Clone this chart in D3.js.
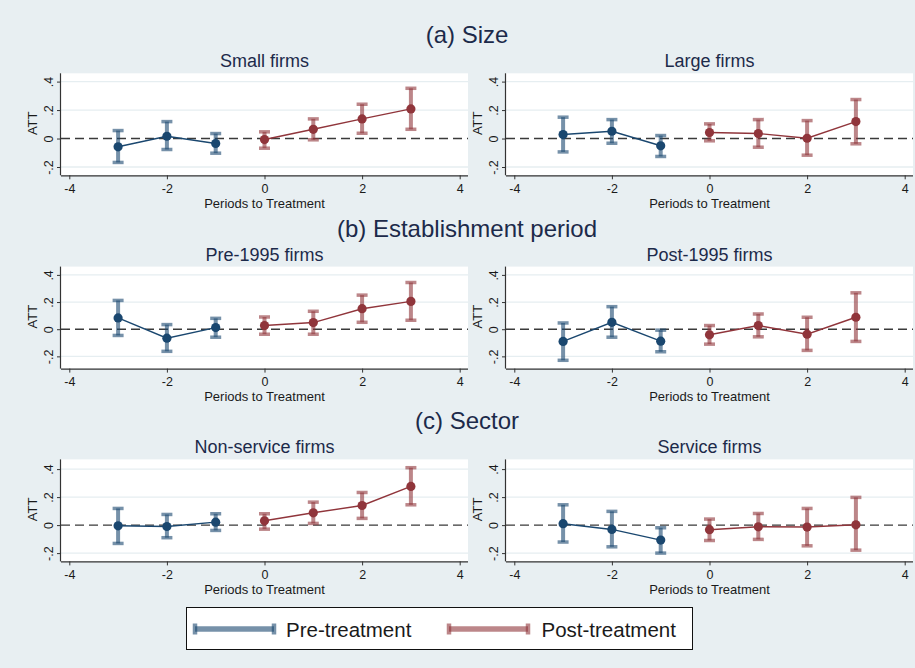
<!DOCTYPE html>
<html>
<head>
<meta charset="utf-8">
<script src="https://cdn.jsdelivr.net/npm/d3@7/dist/d3.min.js"></script>
<style>
  html, body { margin: 0; padding: 0; background: #e8eff2; }
  svg { display: block; font-family: "Liberation Sans", Arial, sans-serif; }
</style>
</head>
<body>
<svg id="chart" width="915" height="668"></svg>
<script>
// ---------------- DATA ----------------
const periods = [-3, -2, -1, 0, 1, 2, 3];
const rowTitles = ["(a) Size", "(b) Establishment period", "(c) Sector"];
const panelTitles = [
  ["Small firms", "Large firms"],
  ["Pre-1995 firms", "Post-1995 firms"],
  ["Non-service firms", "Service firms"]
];
const xTicks = [-4, -2, 0, 2, 4];
const yTicks = [-0.2, 0, 0.2, 0.4];
const yTickLabels = ["-.2", "0", ".2", ".4"];
const xAxisTitle = "Periods to Treatment";
const yAxisTitle = "ATT";
const legendLabels = ["Pre-treatment", "Post-treatment"];

// Small firms
const smallATT = [-0.058, 0.016, -0.035, -0.007, 0.065, 0.138, 0.208];
const smallLo  = [-0.168, -0.077, -0.103, -0.068, -0.009, 0.037, 0.065];
const smallHi  = [0.056, 0.119, 0.035, 0.047, 0.138, 0.241, 0.353];
// Large firms
const largeATT = [0.028, 0.051, -0.051, 0.042, 0.035, 0.002, 0.119];
const largeLo  = [-0.094, -0.033, -0.126, -0.016, -0.061, -0.117, -0.037];
const largeHi  = [0.150, 0.133, 0.021, 0.103, 0.133, 0.126, 0.274];
// Pre-1995 firms
const pre95ATT = [0.083, -0.066, 0.012, 0.027, 0.049, 0.151, 0.205];
const pre95Lo  = [-0.046, -0.163, -0.059, -0.037, -0.037, 0.051, 0.066];
const pre95Hi  = [0.212, 0.034, 0.080, 0.090, 0.132, 0.251, 0.344];
// Post-1995 firms
const post95ATT = [-0.090, 0.051, -0.088, -0.041, 0.027, -0.037, 0.088];
const post95Lo  = [-0.229, -0.059, -0.166, -0.110, -0.056, -0.156, -0.090];
const post95Hi  = [0.046, 0.166, -0.007, 0.027, 0.112, 0.088, 0.268];
// Non-service firms
const nonservATT = [-0.005, -0.010, 0.021, 0.031, 0.088, 0.140, 0.276];
const nonservLo  = [-0.131, -0.090, -0.038, -0.029, 0.012, 0.048, 0.145];
const nonservHi  = [0.119, 0.076, 0.081, 0.081, 0.164, 0.233, 0.410];
// Service firms
const servATT = [0.010, -0.031, -0.107, -0.033, -0.012, -0.014, 0.002];
const servLo  = [-0.121, -0.155, -0.200, -0.110, -0.102, -0.148, -0.179];
const servHi  = [0.145, 0.098, -0.019, 0.043, 0.083, 0.119, 0.198];

const panelData = [
  [[smallATT, smallLo, smallHi], [largeATT, largeLo, largeHi]],
  [[pre95ATT, pre95Lo, pre95Hi], [post95ATT, post95Lo, post95Hi]],
  [[nonservATT, nonservLo, nonservHi], [servATT, servLo, servHi]]
];

// ---------------- STYLE / LAYOUT ----------------
const preColor = "#1a476f";
const postColor = "#90353b";
const titleColor = "#1c2a4a";
const textColor = "#1a1a1a";
const rowTops = [73.3, 266.6, 459.4];
const rowTitleY = [42.5, 236.5, 429];
const colLefts = [61, 506];
const plotW = 407;
const plotH = 102;
const pad = 8.3;

const svg = d3.select("#chart");
svg.append("rect").attr("width", 915).attr("height", 668).attr("fill", "#e8eff2");

rowTitles.forEach((t, r) => {
  svg.append("text")
    .attr("x", 467).attr("y", rowTitleY[r])
    .attr("text-anchor", "middle")
    .attr("font-size", 24).attr("fill", titleColor)
    .text(t);
});

panelData.forEach((rowPanels, r) => {
  const top = rowTops[r];
  const bottom = top + plotH;
  const allLo = rowPanels.flatMap(p => p[1]);
  const allHi = rowPanels.flatMap(p => p[2]);
  const yMin = Math.min(d3.min(yTicks), d3.min(allLo));
  const yMax = Math.max(d3.max(yTicks), d3.max(allHi));
  const y = d3.scaleLinear().domain([yMin, yMax]).range([bottom - pad, top + pad]);

  rowPanels.forEach((pd, c) => {
    const left = colLefts[c];
    const right = left + plotW;
    const x = d3.scaleLinear().domain([-4, 4]).range([left + pad, right - pad]);
    const g = svg.append("g");

    // plot region
    g.append("rect").attr("x", left).attr("y", top)
      .attr("width", plotW).attr("height", plotH).attr("fill", "#ffffff");

    // gridlines
    g.selectAll(".grid").data(yTicks.filter(v => v !== 0)).enter()
      .append("line")
      .attr("x1", left).attr("x2", right)
      .attr("y1", d => y(d)).attr("y2", d => y(d))
      .attr("stroke", "#e6eef1").attr("stroke-width", 1.3);

    // zero reference line
    g.append("line")
      .attr("x1", left).attr("x2", right)
      .attr("y1", y(0)).attr("y2", y(0))
      .attr("stroke", "#3a3a3a").attr("stroke-width", 1.4)
      .attr("stroke-dasharray", "9,5");

    // axes
    const xAxis = d3.axisBottom(x).tickValues(xTicks).tickSize(4).tickPadding(5)
      .tickFormat(d3.format("d"));
    const gx = g.append("g").attr("transform", `translate(0,${bottom})`).call(xAxis);
    gx.select(".domain").attr("d", `M${left},0.5H${right}`).attr("stroke", "#333").attr("stroke-width", 1.2);
    gx.selectAll(".tick line").attr("stroke", "#333");
    gx.selectAll(".tick text").attr("font-size", 12.5).attr("fill", textColor)
      .attr("font-family", "Liberation Sans, Arial, sans-serif")
      .text(d => d < 0 ? "-" + Math.abs(d) : String(d));

    const yAxis = d3.axisLeft(y).tickValues(yTicks).tickSize(4)
      .tickFormat((d, i) => yTickLabels[i]);
    const gy = g.append("g").attr("transform", `translate(${left},0)`).call(yAxis);
    gy.select(".domain").attr("d", `M-0.5,${top}V${bottom}`).attr("stroke", "#333").attr("stroke-width", 1.2);
    gy.selectAll(".tick line").attr("stroke", "#333");
    gy.selectAll(".tick text")
      .attr("font-size", 12.5).attr("fill", textColor)
      .attr("font-family", "Liberation Sans, Arial, sans-serif")
      .attr("x", null).attr("dy", null)
      .attr("text-anchor", "middle")
      .attr("transform", "translate(-8.5,0) rotate(-90)");

    // axis titles
    g.append("text").attr("x", (left + right) / 2).attr("y", bottom + 32.5)
      .attr("text-anchor", "middle").attr("font-size", 13).attr("fill", textColor)
      .text(xAxisTitle);
    g.append("text")
      .attr("transform", `translate(${left - 24},${(top + bottom) / 2 - 1}) rotate(-90)`)
      .attr("text-anchor", "middle").attr("font-size", 13).attr("fill", textColor)
      .text(yAxisTitle);

    // panel subtitle
    g.append("text").attr("x", (left + right) / 2).attr("y", top - 6)
      .attr("text-anchor", "middle").attr("font-size", 18).attr("fill", titleColor)
      .text(panelTitles[r][c]);

    // data
    const [att, lo, hi] = pd;
    const pts = periods.map((p, i) => ({ p, att: att[i], lo: lo[i], hi: hi[i] }));
    const groups = [
      { pts: pts.filter(d => d.p < 0), color: preColor },
      { pts: pts.filter(d => d.p >= 0), color: postColor }
    ];
    groups.forEach(grp => {
      const ci = g.append("g").attr("stroke", grp.color).attr("stroke-opacity", 0.6);
      ci.selectAll(".bar").data(grp.pts).enter().append("line")
        .attr("x1", d => x(d.p)).attr("x2", d => x(d.p))
        .attr("y1", d => y(d.lo)).attr("y2", d => y(d.hi))
        .attr("stroke-width", 4);
      ci.selectAll(".capHi").data(grp.pts).enter().append("line")
        .attr("x1", d => x(d.p) - 5.5).attr("x2", d => x(d.p) + 5.5)
        .attr("y1", d => y(d.hi)).attr("y2", d => y(d.hi))
        .attr("stroke-width", 3.5);
      ci.selectAll(".capLo").data(grp.pts).enter().append("line")
        .attr("x1", d => x(d.p) - 5.5).attr("x2", d => x(d.p) + 5.5)
        .attr("y1", d => y(d.lo)).attr("y2", d => y(d.lo))
        .attr("stroke-width", 3.5);

      g.append("path").datum(grp.pts)
        .attr("d", d3.line().x(d => x(d.p)).y(d => y(d.att)))
        .attr("fill", "none").attr("stroke", grp.color).attr("stroke-width", 1.4);

      g.selectAll(null).data(grp.pts).enter().append("circle")
        .attr("cx", d => x(d.p)).attr("cy", d => y(d.att)).attr("r", 4.6)
        .attr("fill", grp.color);
    });
  });
});

// ---------------- LEGEND ----------------
const lg = svg.append("g");
lg.append("rect").attr("x", 186.5).attr("y", 607.5).attr("width", 506).attr("height", 42)
  .attr("fill", "#ffffff").attr("stroke", "#111").attr("stroke-width", 1);
const legendItems = [
  { label: legendLabels[0], color: preColor, x0: 193, x1: 276, tx: 286 },
  { label: legendLabels[1], color: postColor, x0: 447, x1: 530, tx: 541.5 }
];
legendItems.forEach(it => {
  const gg = lg.append("g").attr("stroke", it.color).attr("stroke-opacity", 0.6);
  gg.append("line").attr("x1", it.x0 + 2).attr("x2", it.x1 - 2).attr("y1", 629).attr("y2", 629)
    .attr("stroke-width", 5.5);
  gg.append("line").attr("x1", it.x0 + 2).attr("x2", it.x0 + 2).attr("y1", 623.5).attr("y2", 634.5)
    .attr("stroke-width", 4.5);
  gg.append("line").attr("x1", it.x1 - 2).attr("x2", it.x1 - 2).attr("y1", 623.5).attr("y2", 634.5)
    .attr("stroke-width", 4.5);
  lg.append("text").attr("x", it.tx).attr("y", 636.5)
    .attr("font-size", 20.5).attr("fill", textColor).text(it.label);
});
</script>
</body>
</html>
